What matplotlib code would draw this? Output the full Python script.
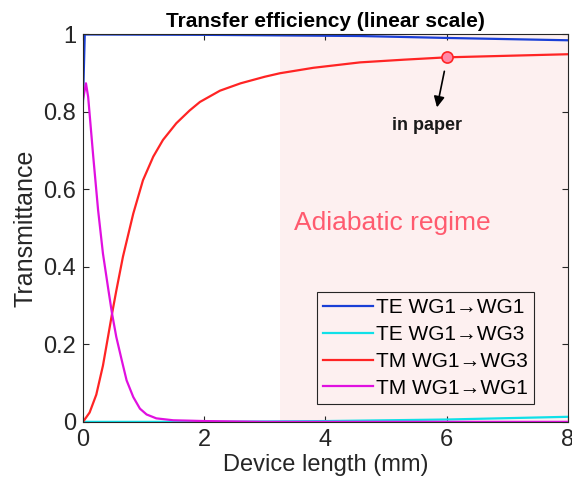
import numpy as np
import matplotlib
matplotlib.use("Agg")
import matplotlib.pyplot as plt

plt.rcParams['font.family'] = ['Liberation Sans', 'DejaVu Sans']

# curves
x_red = [0, 0.015, 0.11, 0.22, 0.33, 0.42, 0.48, 0.55, 0.66, 0.83, 0.99, 1.16, 1.32,
         1.54, 1.76, 1.93, 2.26, 2.6, 3.0, 3.25, 3.8, 4.57, 5.3, 6.0, 7.0, 8.0]
y_red = [0, 0.003, 0.024, 0.07, 0.145, 0.225, 0.279, 0.338, 0.426, 0.537, 0.623, 0.684, 0.727,
         0.770, 0.803, 0.825, 0.854, 0.873, 0.89, 0.899, 0.913, 0.927, 0.934, 0.94, 0.944, 0.948]

x_mag = [0, 0.05, 0.086, 0.17, 0.25, 0.33, 0.42, 0.48, 0.55, 0.64, 0.72, 0.83, 0.94,
         1.05, 1.21, 1.49, 1.76, 2.0, 3.0, 8.0]
y_mag = [0.83, 0.873, 0.838, 0.684, 0.546, 0.434, 0.340, 0.279, 0.219, 0.159, 0.107, 0.064, 0.034,
         0.019, 0.009, 0.004, 0.003, 0.002, 0.0, 0.0]

x_blue = [0, 0.03, 2.0, 4.57, 6.0, 8.0]
y_blue = [0.82, 0.999, 0.998, 0.995, 0.99, 0.984]

x_cyan = [0, 2.0, 4.0, 6.0, 8.0]
y_cyan = [0.0, 0.0, 0.002, 0.006, 0.013]

labels = ["TE WG1\u2192WG1", "TE WG1\u2192WG3", "TM WG1\u2192WG3", "TM WG1\u2192WG1"]
regime_start = 3.25
paper_x, paper_y = 6.0, 0.94

fig = plt.figure(figsize=(5.72, 5.01), dpi=100)
ax = fig.add_axes([0.145, 0.158, 0.848, 0.774])

ax.axvspan(regime_start, 8, color='#fdf0f0', zorder=0, lw=0)

ax.plot(x_blue, y_blue, color='#1a3fd6', lw=1.6, label=labels[0])
ax.plot(x_cyan, y_cyan, color='#10e0e8', lw=1.6, label=labels[1])
ax.plot(x_red, y_red, color='#ff2424', lw=1.6, label=labels[2])
ax.plot(x_mag, y_mag, color='#e010e0', lw=1.6, label=labels[3])

ax.plot([paper_x], [paper_y], 'o', ms=8, mfc='#ff8aa8', mec='#ff2424', mew=1.2)
ax.annotate("in paper", xy=(5.83, 0.804), xytext=(5.67, 0.765),
            ha='center', va='center', fontsize=13, fontweight='bold', color='#1a1a1a')
ax.annotate("", xy=(5.83, 0.804), xytext=(5.97, 0.911),
            arrowprops=dict(arrowstyle='-|>', color='black', lw=1.2, mutation_scale=16))

ax.text(5.11, 0.514, "Adiabatic regime", color='#ff5a6e', fontsize=19,
        ha='center', va='center')

ax.set_xlim(0, 8)
ax.set_ylim(0, 1)
ax.set_xticks([0, 2, 4, 6, 8])
ax.set_yticks([0, 0.2, 0.4, 0.6, 0.8, 1])
ax.set_yticklabels(["0", "0.2", "0.4", "0.6", "0.8", "1"])
ax.tick_params(direction='in', top=True, right=True, labelsize=17, colors='#262626',
               length=4, pad=5)
for s in ax.spines.values():
    s.set_color('#262626')
    s.set_linewidth(0.8)

ax.set_xlabel("Device length (mm)", fontsize=17, color='#262626', labelpad=2)
ax.set_ylabel("Transmittance", fontsize=18, color='#262626', labelpad=4)
ax.set_title("Transfer efficiency (linear scale)", fontsize=15, fontweight='bold', pad=5)

leg = ax.legend(loc='lower right', bbox_to_anchor=(0.93, 0.046), fontsize=15,
                fancybox=False, framealpha=1, facecolor='#fdf0f0', edgecolor='#262626',
                handlelength=2.4, borderpad=0.3, labelspacing=0.38, handletextpad=0.15,
                borderaxespad=0)
leg.get_frame().set_linewidth(0.8)

fig.savefig("out.png", dpi=100)
